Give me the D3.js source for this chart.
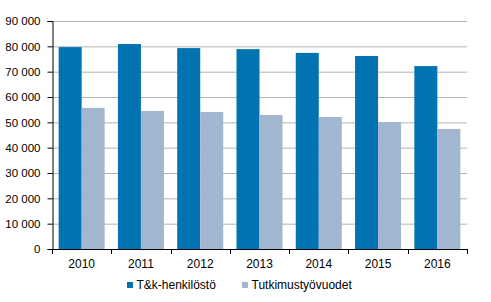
<!DOCTYPE html>
<html><head><meta charset="utf-8">
<script src="https://cdn.jsdelivr.net/npm/d3@7"></script>
<style>body{margin:0;background:#fff}svg{display:block}text{font-family:"Liberation Sans",Arial,sans-serif;font-size:12px;fill:#000}</style>
</head><body><svg id="c" width="491" height="302"></svg>
<script>
const years = ["2010","2011","2012","2013","2014","2015","2016"];
const personnel = [79700, 80900, 79300, 78900, 77400, 76200, 72200];
const personYears = [55700, 54500, 54100, 52900, 52100, 50100, 47400];
const seriesNames = ["T&k-henkilöstö", "Tutkimustyövuodet"];
const yTicks = [0,10000,20000,30000,40000,50000,60000,70000,80000,90000];
const colors = ["#0073b0", "#a2b6d0"];

const svg = d3.select("#c");
const L = 52, R = 467, T = 21, B = 249;
const x = d3.scaleBand().domain(years).range([L, R]).paddingInner(0.224).paddingOuter(0.112);
const y = d3.scaleLinear().domain([0, 90000]).range([B, T]);
const fmt = v => d3.format(",")(v).replace(/,/g, " ");

// gridlines
svg.append("g").selectAll("line").data(yTicks.filter(d => d > 0)).join("line")
  .attr("x1", L).attr("x2", R).attr("y1", d => y(d) + 0.5).attr("y2", d => y(d) + 0.5)
  .attr("stroke", "#b3b3b3").attr("stroke-width", 1);

const sub = d3.scaleBand().domain([0,1]).range([0, x.bandwidth()]);
const data = [personnel, personYears];
data.forEach((arr, s) => {
  svg.append("g").selectAll("rect").data(arr).join("rect")
    .attr("x", (d, i) => x(years[i]) + sub(s))
    .attr("width", sub.bandwidth())
    .attr("y", d => y(d))
    .attr("height", d => B - y(d))
    .attr("fill", colors[s]);
});

// y axis
const ya = svg.append("g").attr("transform", `translate(${L + 0.5},0)`)
  .call(d3.axisLeft(y).tickValues(yTicks).tickFormat(fmt).tickSize(5).tickPadding(7));
ya.select(".domain").attr("stroke", "#000");
ya.selectAll(".tick line").attr("stroke", "#000");
ya.selectAll("text").style("font-size", "11.5px").style("font-family", '"Liberation Sans",Arial,sans-serif').attr("fill", "#000");

// x axis
svg.append("line").attr("x1", L).attr("x2", R + 0.5).attr("y1", B + 0.5).attr("y2", B + 0.5).attr("stroke", "#000");
const bounds = d3.range(years.length + 1).map(i => L + i * (R - L) / years.length);
svg.append("g").selectAll("line").data(bounds).join("line")
  .attr("x1", d => Math.round(d) + 0.5).attr("x2", d => Math.round(d) + 0.5)
  .attr("y1", B).attr("y2", B + 5).attr("stroke", "#000");
svg.append("g").selectAll("text").data(years).join("text")
  .attr("x", d => x(d) + x.bandwidth() / 2).attr("y", 267.5)
  .attr("text-anchor", "middle").text(d => d);

// legend
const leg = [{x: 127, name: seriesNames[0], c: colors[0]}, {x: 242, name: seriesNames[1], c: colors[1]}];
const lg = svg.append("g").selectAll("g").data(leg).join("g");
lg.append("rect").attr("x", d => d.x).attr("y", 282).attr("width", 6).attr("height", 6).attr("fill", d => d.c);
lg.append("text").attr("x", d => d.x + 9.5).attr("y", 288.5).text(d => d.name);
</script></body></html>
